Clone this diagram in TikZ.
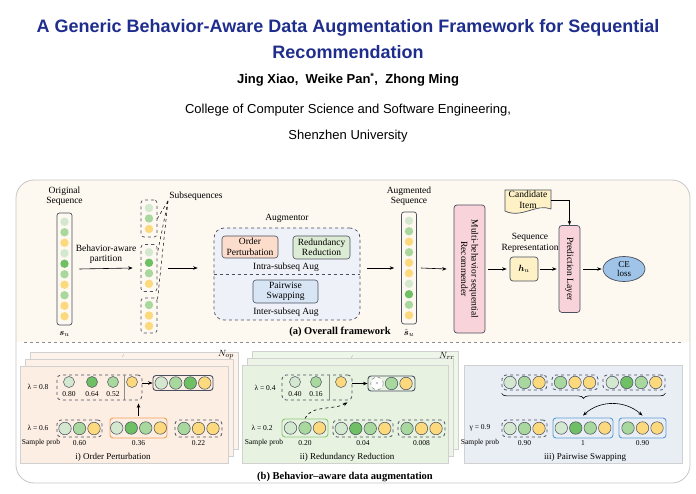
\documentclass[tikz,border=0pt]{standalone}
\usepackage{amsmath,amssymb}
\usepackage{fontspec}
\setmainfont{Liberation Serif}
\newfontfamily\headfont{Liberation Sans}
\usepackage{xcolor}
\usepackage{tikz}
\usetikzlibrary{shapes,arrows,positioning,calc,decorations.pathreplacing,arrows.meta}

\definecolor{pg}{HTML}{D3E8CF}
\definecolor{mg}{HTML}{A8D89E}
\definecolor{dg}{HTML}{6FBF65}
\definecolor{yl}{HTML}{FDD97E}
\definecolor{titleblue}{HTML}{1F2E8C}
\definecolor{cream}{HTML}{FDF8F0}
\definecolor{peach}{HTML}{FDEEE3}
\definecolor{mint}{HTML}{E7F2E0}
\definecolor{mist}{HTML}{E9EEF5}
\definecolor{augfill}{HTML}{EEF2F8}
\definecolor{opfill}{HTML}{FCDCCB}
\definecolor{rrfill}{HTML}{DCEBD3}
\definecolor{psfill}{HTML}{D8E5F4}
\definecolor{pinkbox}{HTML}{F8D3DA}
\definecolor{ylbox}{HTML}{FDF1C5}
\definecolor{lossblue}{HTML}{9FC4E8}
\definecolor{edge}{HTML}{4A5060}
\definecolor{orangeedge}{HTML}{F0A05A}
\definecolor{greenedge}{HTML}{8DC873}
\definecolor{blueedge}{HTML}{5E9CD6}

\begin{document}
\begin{tikzpicture}[x=1pt,y=-1pt,
    font=\fontsize{9.5}{10.5}\selectfont,
    seqdot/.style={circle,inner sep=0,minimum size=8.4},
    itemdot/.style={circle,draw=edge,line width=0.5,inner sep=0,minimum size=12.5},
    probdot/.style={circle,draw=edge,line width=0.5,inner sep=0,minimum size=11},
    colbox/.style={draw=edge,rounded corners=2.5,line width=0.7,minimum width=15,minimum height=112,inner sep=0},
    subbox/.style={draw=edge,dashed,rounded corners=3,line width=0.7,minimum width=16,inner sep=0},
    augbox/.style={draw=edge,rounded corners=3,line width=0.6,align=center,inner sep=1},
    arr/.style={-{Stealth[length=4.5,width=3.5]},line width=0.6},
    grp/.style={draw=edge,dashed,rounded corners=4,line width=0.8,inner sep=0},
    selbox/.style={rounded corners=3,line width=0.9,inner sep=0},
    sheet/.style={draw=black!18,line width=0.4},
    lbl/.style={font=\fontsize{7.5}{8.5}\selectfont,inner sep=1},
    subcap/.style={font=\fontsize{9}{10}\selectfont},
  ]
\useasboundingbox (0,0) rectangle (696,494);

% Title
\node[font=\headfont\bfseries\fontsize{18}{20}\selectfont,text=titleblue] (title1) at (348,28) {A Generic Behavior-Aware Data Augmentation Framework for Sequential};
\node[font=\headfont\bfseries\fontsize{18}{20}\selectfont,text=titleblue] (title2) at (348,52) {Recommendation};
\node[font=\headfont\bfseries\fontsize{13}{15}\selectfont] (authors) at (348,80) {Jing Xiao,\ \ Weike Pan\textsuperscript{*},\ \ Zhong Ming};
\node[font=\headfont\fontsize{13}{15}\selectfont] (college) at (348,110) {College of Computer Science and Software Engineering,};
\node[font=\headfont\fontsize{13}{15}\selectfont] (univ) at (348,136) {Shenzhen University};

% Frame
\begin{scope}
  \clip[rounded corners=18] (16,180) rectangle (690,483);
  \fill[white] (16,180) rectangle (690,483);
  \fill[cream] (16,180) rectangle (690,342);
\end{scope}
\draw[black!22,line width=0.8,rounded corners=18] (16,180) rectangle (690,483);
\draw[black!45,dashed,line width=0.5] (24,342) -- (682,342);

% Original sequence
\node[colbox] (os) at (64.5,269) {};
\foreach \c [count=\i] in {pg,mg,yl,pg,dg,mg,yl,mg,yl,yl}
  \node[seqdot,fill=\c] (os\i) at (64.5,211.25+10.5*\i) {};
\node[align=center] (oslab) at (64.5,196) {Original\\Sequence};
\node (su) at (64.5,334) {$\boldsymbol{s}_{u}$};

% Subsequences
\node[subbox,minimum height=37] (sb1) at (149,218.5) {};
\foreach \c [count=\i] in {pg,mg,yl}
  \node[seqdot,fill=\c] (sba\i) at (149,197.5+10.5*\i) {};
\node[subbox,minimum height=47] (sb2) at (149,268) {};
\foreach \c [count=\i] in {pg,dg,mg,yl}
  \node[seqdot,fill=\c] (sbb\i) at (149,241.75+10.5*\i) {};
\node[subbox,minimum height=35] (sb3) at (149,315.5) {};
\foreach \c [count=\i] in {mg,yl,yl}
  \node[seqdot,fill=\c] (sbc\i) at (149,294.5+10.5*\i) {};
\node (sublab) at (196,196) {Subsequences};
\coordinate (subtip) at (168,201);
\draw[dashed,line width=0.5] (subtip) -- (sb1.east);
\draw[dashed,line width=0.5] (subtip) -- (sb2.60);
\draw[dashed,line width=0.5] (subtip) -- (sb3.60);

\draw[arr] ([xshift=7pt]os.east) -- node[above=1pt,align=center] (partlab) {Behavior-aware\\partition} ([xshift=-8pt]sb2.west);

% Augmentor
\node[draw=edge,dashed,line width=0.7,rounded corners=10,fill=augfill,minimum width=146,minimum height=92] (aug) at (287,274) {};
\draw[edge,dashed,line width=0.7] (aug.west) -- (aug.east);
\node (auglab) at (287,218) {Augmentor};
\node[augbox,fill=opfill,minimum width=56,minimum height=22] (op) at (250,247) {Order\\Perturbation};
\node[augbox,fill=rrfill,minimum width=57,minimum height=23] (rr) at (321.5,247.5) {Redundancy\\Reduction};
\node (intra) at (286,267) {Intra-subseq Aug};
\node[augbox,fill=psfill,minimum width=65,minimum height=23] (ps) at (285.5,291.5) {Pairwise\\Swapping};
\node (inter) at (286,312) {Inter-subseq Aug};
\draw[arr] ([xshift=11pt]sb2.east) -- ([xshift=-16pt]sb2.east -| aug.west);

% Augmented sequence
\node[colbox] (as) at (409,268) {};
\foreach \c [count=\i] in {pg,mg,yl,mg,yl,yl,pg,dg,mg,yl}
  \node[seqdot,fill=\c] (as\i) at (409,210.25+10.5*\i) {};
\node[align=center] (aslab) at (409,196) {Augmented\\Sequence};
\node (hsu) at (409,333) {$\hat{\boldsymbol{s}}_{u}$};
\draw[arr] ([xshift=7pt]aug.east |- as.west) -- ([xshift=-7pt]as.west);
\node[font=\bfseries\fontsize{10.5}{12}\selectfont] (capa) at (340,332) {(a) Overall framework};

% Recommender, representation, prediction
\node[draw=edge,line width=0.7,rounded corners=3,fill=pinkbox,minimum width=128,minimum height=31,rotate=-90,align=center,inner sep=1] (rec) at (469.5,269) {Multi-behavior sequential\\Recommender};
\draw[arr] ([xshift=4pt]as.east) -- ([xshift=-7pt]rec.south);
\node[draw=edge,line width=0.7,rounded corners=3,fill=ylbox,minimum width=28,minimum height=24] (hu) at (524,269) {$\boldsymbol{h}_{u}$};
\node[align=center] (seqrep) at (530,243) {Sequence\\Representation};
\draw[arr] ([xshift=3pt]rec.north) -- ([xshift=-3pt]hu.west);
\node[draw=edge,line width=0.7,rounded corners=3,fill=pinkbox,minimum width=87,minimum height=21,rotate=-90,inner sep=1] (pred) at (569.5,269) {Prediction Layer};
\draw[arr] ([xshift=2pt]hu.east) -- ([xshift=-2pt]pred.south);
\draw[draw=edge,line width=0.7,fill=ylbox] (505,190) -- (551,190) -- (551,209) .. controls (537,203) and (521,219) .. (505,211) -- cycle;
\node[align=center,minimum width=46,inner sep=0] (cand) at (528,200) {Candidate\\Item};
\draw[arr] (cand.east) -| (pred.west);
\node[ellipse,draw=edge,line width=0.7,fill=lossblue,minimum width=42,minimum height=25,align=center,inner sep=0,font=\fontsize{9}{9.5}\selectfont] (loss) at (624,269) {CE\\loss};
\draw[arr] ([xshift=3pt]pred.north) -- ([xshift=-1pt]loss.west);

% (b) Order perturbation
\filldraw[sheet,fill=peach!70] (30,352) rectangle (238,449);
\filldraw[sheet,fill=peach!85] (25,359) rectangle (233,456);
\filldraw[sheet,fill=peach] (20,366) rectangle (228,463);
\node (nop) at (226,355) {$N_{op}$};
\node[rotate=45,inner sep=0,font=\fontsize{4}{4}\selectfont] (opdots) at (123,356) {...};
\node[lbl] (lam08) at (38,387) {λ = 0.8};
\node[grp,minimum width=85,minimum height=25] (opbig) at (99.5,387.5) {};
\foreach \c/\x/\v in {pg/69/0.80,dg/92/0.64,mg/113/0.52} {
  \node[probdot,fill=\c] (opb\x) at (\x,382) {};
  \node[lbl] (opn\x) at (\x,394) {\v};
}
\draw[black!45,line width=0.4] (124,375) -- (124,400);
\node[probdot,fill=yl] (opby) at (132,382) {};
\node[selbox,draw=edge,minimum width=60,minimum height=15] (opres) at (183,383) {};
\foreach \c [count=\i] in {pg,mg,dg,yl}
  \node[itemdot,fill=\c] (opr\i) at (146.75+14.5*\i,383) {};
\draw[arr] (opbig.east |- opres.west) -- (opres.west);
\node[lbl] (lam06) at (38,428) {λ = 0.6};
\node[grp,minimum width=45,minimum height=17] (opg1) at (79.5,428.5) {};
\foreach \c [count=\i] in {pg,mg,yl}
  \node[itemdot,fill=\c] (opa\i) at (50.5+14.5*\i,428.5) {};
\node[selbox,draw=orangeedge,minimum width=57,minimum height=20] (opsel) at (138.5,428) {};
\foreach \c [count=\i] in {pg,dg,mg,yl}
  \node[itemdot,fill=\c] (ops\i) at (102.25+14.5*\i,428) {};
\node[grp,minimum width=47,minimum height=17] (opg3) at (198.5,428.5) {};
\foreach \c [count=\i] in {mg,yl,yl}
  \node[itemdot,fill=\c] (opc\i) at (169.5+14.5*\i,428.5) {};
\draw[arr] ([yshift=2pt]opsel.north) -- ($(opsel.north |- opbig.south)+(0,3)$);
\node[lbl] (opsp) at (41,443) {Sample prob};
\node[lbl] (opp1) at (79.5,443) {0.60};
\node[lbl] (opp2) at (138.5,443) {0.36};
\node[lbl] (opp3) at (198.5,443) {0.22};
\node[subcap] (opcap) at (113,457) {i) Order Perturbation};

% (b) Redundancy reduction
\filldraw[sheet,fill=mint!70] (252,351) rectangle (458,449);
\filldraw[sheet,fill=mint!85] (247,358) rectangle (453,456);
\filldraw[sheet,fill=mint] (242,365) rectangle (448,463);
\node (nrr) at (447,356) {$N_{rr}$};
\node[rotate=45,inner sep=0,font=\fontsize{4}{4}\selectfont] (rrdots) at (352,357) {...};
\node[lbl] (lam04) at (265,388) {λ = 0.4};
\node[grp,minimum width=70,minimum height=25] (rrbig) at (317,387.5) {};
\foreach \c/\x/\v in {pg/295/0.40,mg/316/0.16} {
  \node[probdot,fill=\c] (rrb\x) at (\x,382) {};
  \node[lbl] (rrn\x) at (\x,394) {\v};
}
\draw[black!45,line width=0.4] (329,375) -- (329,400);
\node[probdot,fill=yl] (rrby) at (341,382) {};
\node[selbox,draw=edge,minimum width=47,minimum height=15] (rrres) at (391.5,383.5) {};
\node[itemdot,dashed,draw=black!50,fill=white,font=\fontsize{6}{6}\selectfont,text=black!60] (rrr1) at (377,383.5) {×};
\node[itemdot,fill=mg] (rrr2) at (391.5,383.5) {};
\node[itemdot,fill=yl] (rrr3) at (406,383.5) {};
\draw[arr] (rrbig.east |- rrres.west) -- (rrres.west);
\node[lbl] (lam02) at (262,428) {λ = 0.2};
\node[selbox,draw=greenedge,minimum width=46,minimum height=18] (rrsel) at (305,428) {};
\foreach \c [count=\i] in {pg,mg,yl}
  \node[itemdot,fill=\c] (rrs\i) at (276+14.5*\i,428) {};
\node[grp,minimum width=60,minimum height=17] (rrg2) at (363,428.5) {};
\foreach \c [count=\i] in {pg,dg,mg,yl}
  \node[itemdot,fill=\c] (rrb\i) at (326.75+14.5*\i,428.5) {};
\node[grp,minimum width=47,minimum height=17] (rrg3) at (421.5,428.5) {};
\foreach \c [count=\i] in {mg,yl,yl}
  \node[itemdot,fill=\c] (rrc\i) at (392.5+14.5*\i,428.5) {};
\draw[arr,dashed] (rrsel.north) .. controls (310,405) and (335,410) .. ($(rrbig.south east)+(-5,2)$);
\node[lbl] (rrsp) at (264,443) {Sample prob};
\node[lbl] (rrp1) at (305,443) {0.20};
\node[lbl] (rrp2) at (363,443) {0.04};
\node[lbl] (rrp3) at (421.5,443) {0.008};
\node[subcap] (rrcap) at (347,457) {ii) Redundancy Reduction};

% (b) Pairwise swapping
\filldraw[sheet,fill=mist] (464,365) rectangle (682,463);
\node[grp,minimum width=45,minimum height=15] (pst1) at (524.5,382.5) {};
\foreach \c [count=\i] in {pg,mg,yl}
  \node[itemdot,fill=\c] (psa\i) at (495.5+14.5*\i,382.5) {};
\node[grp,minimum width=46,minimum height=15] (pst2) at (575,382.5) {};
\foreach \c [count=\i] in {mg,yl,yl}
  \node[itemdot,fill=\c] (psb\i) at (546+14.5*\i,382.5) {};
\node[grp,minimum width=62,minimum height=15] (pst3) at (634,382.5) {};
\foreach \c [count=\i] in {pg,dg,mg,yl}
  \node[itemdot,fill=\c] (psc\i) at (597.75+14.5*\i,382.5) {};
\draw[decorate,decoration={brace,amplitude=5pt,mirror},line width=0.6] ([yshift=-3pt]pst1.south west) -- ([yshift=-3pt]pst3.south east);
\node[lbl] (gam09) at (480,428) {γ = 0.9};
\node[grp,minimum width=45,minimum height=17] (psb1) at (524.5,428.5) {};
\foreach \c [count=\i] in {pg,mg,yl}
  \node[itemdot,fill=\c] (psd\i) at (495.5+14.5*\i,428.5) {};
\node[selbox,draw=blueedge,minimum width=60,minimum height=20] (psb2) at (583,428) {};
\foreach \c [count=\i] in {pg,dg,mg,yl}
  \node[itemdot,fill=\c] (pse\i) at (546.75+14.5*\i,428) {};
\node[selbox,draw=blueedge,minimum width=47,minimum height=20] (psb3) at (642.5,428) {};
\foreach \c [count=\i] in {mg,yl,yl}
  \node[itemdot,fill=\c] (psf\i) at (613.5+14.5*\i,428) {};
\draw[{Stealth[length=4.5,width=3.5]}-{Stealth[length=4.5,width=3.5]},line width=0.6] ([yshift=2pt]psb2.north) .. controls (600,400) and (625,400) .. ([yshift=2pt]psb3.north);
\node[lbl] (pssp) at (480,443) {Sample prob};
\node[lbl] (psp1) at (524.5,443) {0.90};
\node[lbl] (psp2) at (583,443) {1};
\node[lbl] (psp3) at (642.5,443) {0.90};
\node[subcap] (pscap) at (585,457) {iii) Pairwise Swapping};

\node[font=\bfseries\fontsize{10.5}{12}\selectfont] (capb) at (345,477) {(b) Behavior--aware data augmentation};
\end{tikzpicture}
\end{document}
